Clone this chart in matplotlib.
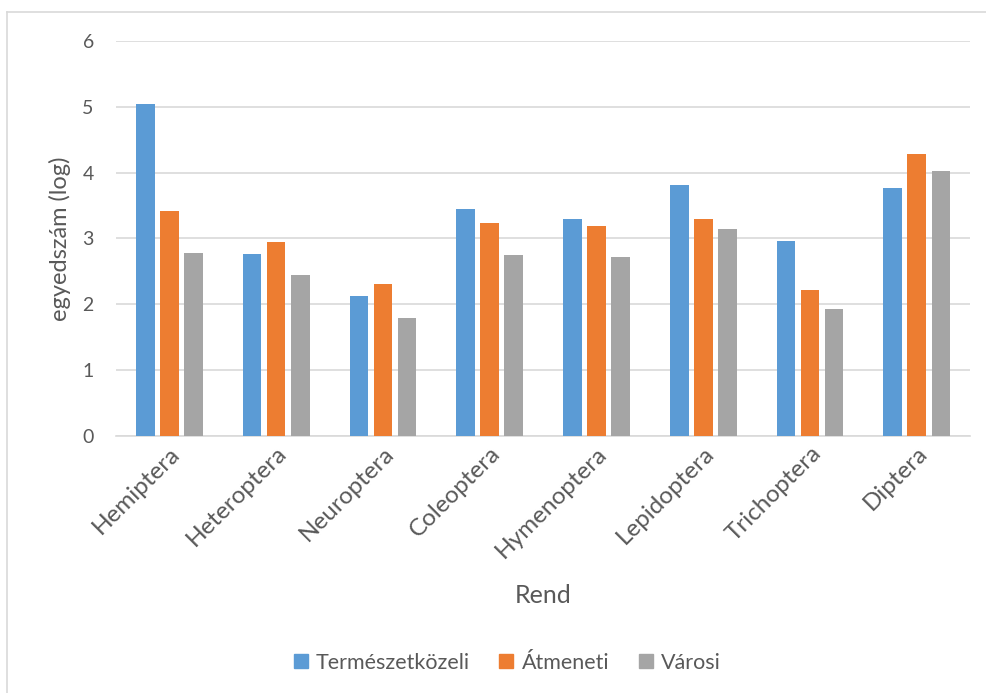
import numpy as np
import matplotlib.pyplot as plt
from matplotlib.lines import Line2D

# data
rendek = ['Hemiptera', 'Heteroptera', 'Neuroptera', 'Coleoptera',
          'Hymenoptera', 'Lepidoptera', 'Trichoptera', 'Diptera']
termeszetkozeli = [5.04, 2.76, 2.13, 3.44, 3.30, 3.81, 2.96, 3.77]
atmeneti = [3.41, 2.95, 2.31, 3.23, 3.19, 3.29, 2.21, 4.28]
varosi = [2.77, 2.44, 1.79, 2.75, 2.72, 3.14, 1.93, 4.03]
series_names = ['Természetközeli', 'Átmeneti', 'Városi']
colors = ['#5b9bd5', '#ed7d31', '#a5a5a5']

plt.rcParams['font.family'] = ['Lato', 'DejaVu Sans']
txt = '#595959'

fig = plt.figure(figsize=(9.87, 6.93), dpi=100)
ax = fig.add_axes([0.1175, 0.3713, 0.8655, 0.5695])

x = np.arange(len(rendek))
w = 0.175
step = 0.225
for i, (vals, c) in enumerate(zip([termeszetkozeli, atmeneti, varosi], colors)):
    ax.bar(x + (i - 1) * step, vals, width=w, color=c, label=series_names[i], zorder=3)

ax.set_xlim(-0.5, len(rendek) - 0.5)
ax.set_ylim(0, 6)
ax.set_yticks(range(7))
ax.yaxis.grid(True, color='#d9d9d9', linewidth=1.2, zorder=0)
ax.tick_params(axis='y', length=0, labelsize=14, colors=txt, pad=16)
ax.tick_params(axis='x', length=0, labelsize=17.5, colors=txt, pad=5)
ax.set_xticks(x)
ax.set_xticklabels(rendek, rotation=45, ha='right', rotation_mode='anchor')
for s in ['top', 'right', 'left']:
    ax.spines[s].set_visible(False)
ax.spines['bottom'].set_color('#d9d9d9')
ax.spines['bottom'].set_linewidth(1.2)

ax.set_ylabel('egyedszám (log)', fontsize=17, color=txt)
ax.yaxis.set_label_coords(-0.053, 0.5)
ax.set_xlabel('Rend', fontsize=18, color=txt)
ax.xaxis.set_label_coords(0.5, -0.375)

handles = [Line2D([], [], marker='s', linestyle='', color=c, markersize=10) for c in colors]
fig.legend(handles, series_names, loc='center', bbox_to_anchor=(0.513, 0.044),
           ncol=3, frameon=False, fontsize=15.5, labelcolor=txt,
           handlelength=0.8, handletextpad=0.3, columnspacing=1.3)

# chart border (top and left visible)
fig.add_artist(Line2D([7 / 987, 1], [1 - 11.5 / 693] * 2, color='#d9d9d9', lw=1.2))
fig.add_artist(Line2D([7.5 / 987] * 2, [0, 1 - 11.5 / 693], color='#d9d9d9', lw=1.2))

fig.savefig('out.png', dpi=100)
